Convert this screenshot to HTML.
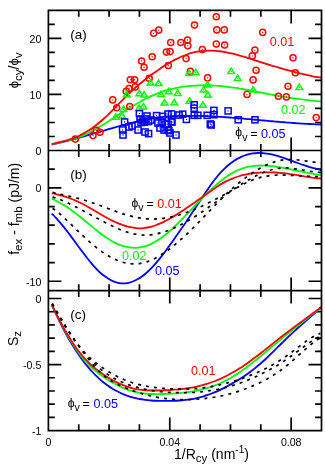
<!DOCTYPE html>
<html><head><meta charset="utf-8"><title>chart</title><style>html,body{margin:0;padding:0;background:#fff}svg{display:block;will-change:transform}</style></head><body>
<svg width="325" height="466" viewBox="0 0 325 466">
<rect width="325" height="466" fill="#fff"/>
<defs><clipPath id="ca"><rect x="48.4" y="10.4" width="273.1" height="140.1"/></clipPath>
<clipPath id="cb"><rect x="48.4" y="150.5" width="273.1" height="140.1"/></clipPath>
<clipPath id="cc"><rect x="48.4" y="290.6" width="273.1" height="140.0"/></clipPath></defs>
<path d="M78.74 10.40 L78.74 16.80 M78.74 144.10 L78.74 156.90 M78.74 284.20 L78.74 297.00 M78.74 424.20 L78.74 430.60 M109.09 10.40 L109.09 16.80 M109.09 144.10 L109.09 156.90 M109.09 284.20 L109.09 297.00 M109.09 424.20 L109.09 430.60 M139.43 10.40 L139.43 16.80 M139.43 144.10 L139.43 156.90 M139.43 284.20 L139.43 297.00 M139.43 424.20 L139.43 430.60 M169.78 10.40 L169.78 23.40 M169.78 137.50 L169.78 163.50 M169.78 277.60 L169.78 303.60 M169.78 417.60 L169.78 430.60 M200.12 10.40 L200.12 16.80 M200.12 144.10 L200.12 156.90 M200.12 284.20 L200.12 297.00 M200.12 424.20 L200.12 430.60 M230.47 10.40 L230.47 16.80 M230.47 144.10 L230.47 156.90 M230.47 284.20 L230.47 297.00 M230.47 424.20 L230.47 430.60 M260.81 10.40 L260.81 16.80 M260.81 144.10 L260.81 156.90 M260.81 284.20 L260.81 297.00 M260.81 424.20 L260.81 430.60 M291.16 10.40 L291.16 23.40 M291.16 137.50 L291.16 163.50 M291.16 277.60 L291.16 303.60 M291.16 417.60 L291.16 430.60 M48.40 136.49 L54.80 136.49 M315.10 136.49 L321.50 136.49 M48.40 122.48 L54.80 122.48 M315.10 122.48 L321.50 122.48 M48.40 108.47 L54.80 108.47 M315.10 108.47 L321.50 108.47 M48.40 94.46 L61.40 94.46 M308.50 94.46 L321.50 94.46 M48.40 80.45 L54.80 80.45 M315.10 80.45 L321.50 80.45 M48.40 66.44 L54.80 66.44 M315.10 66.44 L321.50 66.44 M48.40 52.43 L54.80 52.43 M315.10 52.43 L321.50 52.43 M48.40 38.42 L61.40 38.42 M308.50 38.42 L321.50 38.42 M48.40 24.41 L54.80 24.41 M315.10 24.41 L321.50 24.41 M48.40 281.26 L61.40 281.26 M308.50 281.26 L321.50 281.26 M48.40 262.58 L54.80 262.58 M315.10 262.58 L321.50 262.58 M48.40 243.90 L54.80 243.90 M315.10 243.90 L321.50 243.90 M48.40 225.22 L54.80 225.22 M315.10 225.22 L321.50 225.22 M48.40 206.54 L54.80 206.54 M315.10 206.54 L321.50 206.54 M48.40 187.86 L61.40 187.86 M308.50 187.86 L321.50 187.86 M48.40 169.18 L54.80 169.18 M315.10 169.18 L321.50 169.18 M48.40 298.52 L61.40 298.52 M308.50 298.52 L321.50 298.52 M48.40 311.73 L54.80 311.73 M315.10 311.73 L321.50 311.73 M48.40 324.94 L54.80 324.94 M315.10 324.94 L321.50 324.94 M48.40 338.15 L54.80 338.15 M315.10 338.15 L321.50 338.15 M48.40 351.35 L54.80 351.35 M315.10 351.35 L321.50 351.35 M48.40 364.56 L61.40 364.56 M308.50 364.56 L321.50 364.56 M48.40 377.77 L54.80 377.77 M315.10 377.77 L321.50 377.77 M48.40 390.98 L54.80 390.98 M315.10 390.98 L321.50 390.98 M48.40 404.18 L54.80 404.18 M315.10 404.18 L321.50 404.18 M48.40 417.39 L54.80 417.39 M315.10 417.39 L321.50 417.39" stroke="#000" stroke-width="1.7" fill="none" stroke-linecap="butt"/>
<path d="M51.70 144.45 C52.37 144.31 54.37 143.92 55.70 143.64 C57.03 143.35 58.37 143.05 59.70 142.74 C61.03 142.44 62.37 142.12 63.70 141.79 C65.03 141.46 66.37 141.12 67.70 140.78 C69.03 140.43 70.37 140.08 71.70 139.72 C73.03 139.36 74.37 139.00 75.70 138.63 C77.03 138.26 78.37 137.89 79.70 137.52 C81.03 137.14 82.37 136.76 83.70 136.38 C85.03 136.00 86.37 135.62 87.70 135.24 C89.03 134.85 90.37 134.47 91.70 134.08 C93.03 133.69 94.37 133.31 95.70 132.92 C97.03 132.53 98.37 132.14 99.70 131.76 C101.03 131.37 102.37 130.99 103.70 130.60 C105.03 130.22 106.37 129.83 107.70 129.45 C109.03 129.07 110.37 128.69 111.70 128.31 C113.03 127.93 114.37 127.55 115.70 127.18 C117.03 126.80 118.37 126.43 119.70 126.06 C121.03 125.69 122.37 125.32 123.70 124.95 C125.03 124.59 126.37 124.22 127.70 123.86 C129.03 123.50 130.37 123.14 131.70 122.80 C133.03 122.45 134.37 122.10 135.70 121.77 C137.03 121.44 138.37 121.11 139.70 120.80 C141.03 120.49 142.37 120.18 143.70 119.90 C145.03 119.61 146.37 119.34 147.70 119.08 C149.03 118.83 150.37 118.59 151.70 118.37 C153.03 118.15 154.37 117.95 155.70 117.76 C157.03 117.57 158.37 117.41 159.70 117.25 C161.03 117.10 162.37 116.96 163.70 116.83 C165.03 116.71 166.37 116.60 167.70 116.50 C169.03 116.40 170.37 116.31 171.70 116.24 C173.03 116.16 174.37 116.10 175.70 116.05 C177.03 115.99 178.37 115.95 179.70 115.91 C181.03 115.88 182.37 115.86 183.70 115.84 C185.03 115.82 186.37 115.81 187.70 115.80 C189.03 115.80 190.37 115.80 191.70 115.81 C193.03 115.82 194.37 115.84 195.70 115.86 C197.03 115.88 198.37 115.91 199.70 115.94 C201.03 115.97 202.37 116.01 203.70 116.06 C205.03 116.10 206.37 116.15 207.70 116.21 C209.03 116.26 210.37 116.32 211.70 116.39 C213.03 116.45 214.37 116.52 215.70 116.59 C217.03 116.67 218.37 116.75 219.70 116.83 C221.03 116.91 222.37 117.00 223.70 117.09 C225.03 117.18 226.37 117.27 227.70 117.37 C229.03 117.46 230.37 117.57 231.70 117.67 C233.03 117.77 234.37 117.88 235.70 117.99 C237.03 118.10 238.37 118.21 239.70 118.33 C241.03 118.44 242.37 118.56 243.70 118.67 C245.03 118.79 246.37 118.91 247.70 119.03 C249.03 119.15 250.37 119.28 251.70 119.40 C253.03 119.52 254.37 119.64 255.70 119.77 C257.03 119.89 258.37 120.01 259.70 120.14 C261.03 120.26 262.37 120.38 263.70 120.51 C265.03 120.63 266.37 120.75 267.70 120.87 C269.03 120.99 270.37 121.11 271.70 121.23 C273.03 121.34 274.37 121.46 275.70 121.58 C277.03 121.69 278.37 121.80 279.70 121.91 C281.03 122.03 282.37 122.13 283.70 122.24 C285.03 122.35 286.37 122.45 287.70 122.56 C289.03 122.66 290.37 122.76 291.70 122.86 C293.03 122.96 294.37 123.05 295.70 123.14 C297.03 123.24 298.37 123.33 299.70 123.41 C301.03 123.50 302.37 123.58 303.70 123.66 C305.03 123.74 306.37 123.82 307.70 123.89 C309.03 123.96 310.37 124.03 311.70 124.10 C313.03 124.16 314.37 124.23 315.70 124.28 C317.03 124.34 318.77 124.41 319.70 124.44 C320.63 124.48 321.03 124.49 321.30 124.50" fill="none" stroke="#0000ff" stroke-width="1.8" clip-path="url(#ca)"/>
<path d="M51.70 144.41 C52.37 144.23 54.37 143.68 55.70 143.34 C57.03 143.00 58.37 142.68 59.70 142.36 C61.03 142.04 62.37 141.74 63.70 141.42 C65.03 141.10 66.37 140.78 67.70 140.45 C69.03 140.11 70.37 139.76 71.70 139.38 C73.03 139.00 74.37 138.61 75.70 138.17 C77.03 137.72 78.37 137.25 79.70 136.73 C81.03 136.22 82.37 135.66 83.70 135.07 C85.03 134.48 86.37 133.86 87.70 133.20 C89.03 132.55 90.37 131.86 91.70 131.15 C93.03 130.45 94.37 129.71 95.70 128.95 C97.03 128.20 98.37 127.42 99.70 126.63 C101.03 125.84 102.37 125.02 103.70 124.20 C105.03 123.38 106.37 122.55 107.70 121.71 C109.03 120.87 110.37 120.02 111.70 119.17 C113.03 118.31 114.37 117.46 115.70 116.60 C117.03 115.74 118.37 114.89 119.70 114.03 C121.03 113.18 122.37 112.33 123.70 111.49 C125.03 110.65 126.37 109.81 127.70 108.99 C129.03 108.16 130.37 107.35 131.70 106.55 C133.03 105.75 134.37 104.97 135.70 104.21 C137.03 103.44 138.37 102.69 139.70 101.96 C141.03 101.23 142.37 100.52 143.70 99.83 C145.03 99.13 146.37 98.46 147.70 97.81 C149.03 97.17 150.37 96.54 151.70 95.94 C153.03 95.33 154.37 94.76 155.70 94.20 C157.03 93.65 158.37 93.12 159.70 92.63 C161.03 92.13 162.37 91.66 163.70 91.22 C165.03 90.78 166.37 90.37 167.70 89.98 C169.03 89.60 170.37 89.25 171.70 88.92 C173.03 88.59 174.37 88.29 175.70 88.02 C177.03 87.74 178.37 87.49 179.70 87.27 C181.03 87.04 182.37 86.84 183.70 86.65 C185.03 86.47 186.37 86.31 187.70 86.17 C189.03 86.03 190.37 85.91 191.70 85.81 C193.03 85.71 194.37 85.63 195.70 85.56 C197.03 85.50 198.37 85.45 199.70 85.41 C201.03 85.38 202.37 85.36 203.70 85.36 C205.03 85.35 206.37 85.36 207.70 85.39 C209.03 85.42 210.37 85.46 211.70 85.51 C213.03 85.57 214.37 85.64 215.70 85.72 C217.03 85.80 218.37 85.90 219.70 86.01 C221.03 86.12 222.37 86.24 223.70 86.37 C225.03 86.51 226.37 86.66 227.70 86.82 C229.03 86.97 230.37 87.15 231.70 87.33 C233.03 87.51 234.37 87.71 235.70 87.91 C237.03 88.12 238.37 88.33 239.70 88.56 C241.03 88.78 242.37 89.02 243.70 89.25 C245.03 89.49 246.37 89.74 247.70 89.99 C249.03 90.24 250.37 90.50 251.70 90.75 C253.03 91.01 254.37 91.27 255.70 91.54 C257.03 91.80 258.37 92.06 259.70 92.33 C261.03 92.59 262.37 92.85 263.70 93.11 C265.03 93.37 266.37 93.63 267.70 93.89 C269.03 94.14 270.37 94.40 271.70 94.65 C273.03 94.90 274.37 95.15 275.70 95.39 C277.03 95.63 278.37 95.87 279.70 96.11 C281.03 96.34 282.37 96.57 283.70 96.80 C285.03 97.02 286.37 97.24 287.70 97.45 C289.03 97.67 290.37 97.87 291.70 98.07 C293.03 98.27 294.37 98.47 295.70 98.65 C297.03 98.84 298.37 99.02 299.70 99.20 C301.03 99.37 302.37 99.54 303.70 99.70 C305.03 99.87 306.37 100.02 307.70 100.18 C309.03 100.33 310.37 100.48 311.70 100.62 C313.03 100.76 314.37 100.90 315.70 101.04 C317.03 101.17 318.77 101.34 319.70 101.43 C320.63 101.52 321.03 101.56 321.30 101.59" fill="none" stroke="#00ff00" stroke-width="1.8" clip-path="url(#ca)"/>
<path d="M51.70 144.27 C52.37 144.10 54.37 143.58 55.70 143.24 C57.03 142.89 58.37 142.57 59.70 142.22 C61.03 141.88 62.37 141.54 63.70 141.18 C65.03 140.81 66.37 140.44 67.70 140.03 C69.03 139.63 70.37 139.21 71.70 138.74 C73.03 138.27 74.37 137.78 75.70 137.23 C77.03 136.69 78.37 136.10 79.70 135.46 C81.03 134.81 82.37 134.12 83.70 133.39 C85.03 132.65 86.37 131.86 87.70 131.03 C89.03 130.20 90.37 129.32 91.70 128.39 C93.03 127.46 94.37 126.48 95.70 125.46 C97.03 124.44 98.37 123.37 99.70 122.26 C101.03 121.14 102.37 119.98 103.70 118.77 C105.03 117.57 106.37 116.31 107.70 115.03 C109.03 113.74 110.37 112.41 111.70 111.07 C113.03 109.73 114.37 108.36 115.70 107.00 C117.03 105.63 118.37 104.24 119.70 102.88 C121.03 101.51 122.37 100.14 123.70 98.80 C125.03 97.46 126.37 96.13 127.70 94.84 C129.03 93.55 130.37 92.29 131.70 91.06 C133.03 89.82 134.37 88.62 135.70 87.44 C137.03 86.26 138.37 85.11 139.70 83.98 C141.03 82.85 142.37 81.75 143.70 80.68 C145.03 79.60 146.37 78.55 147.70 77.52 C149.03 76.50 150.37 75.50 151.70 74.52 C153.03 73.54 154.37 72.58 155.70 71.65 C157.03 70.71 158.37 69.80 159.70 68.91 C161.03 68.02 162.37 67.15 163.70 66.31 C165.03 65.46 166.37 64.64 167.70 63.84 C169.03 63.05 170.37 62.28 171.70 61.54 C173.03 60.80 174.37 60.08 175.70 59.40 C177.03 58.72 178.37 58.08 179.70 57.46 C181.03 56.85 182.37 56.27 183.70 55.73 C185.03 55.20 186.37 54.69 187.70 54.23 C189.03 53.77 190.37 53.35 191.70 52.98 C193.03 52.60 194.37 52.27 195.70 51.99 C197.03 51.70 198.37 51.47 199.70 51.27 C201.03 51.08 202.37 50.93 203.70 50.82 C205.03 50.70 206.37 50.64 207.70 50.60 C209.03 50.57 210.37 50.58 211.70 50.61 C213.03 50.65 214.37 50.73 215.70 50.84 C217.03 50.94 218.37 51.08 219.70 51.25 C221.03 51.41 222.37 51.61 223.70 51.83 C225.03 52.05 226.37 52.30 227.70 52.57 C229.03 52.84 230.37 53.14 231.70 53.45 C233.03 53.76 234.37 54.10 235.70 54.45 C237.03 54.80 238.37 55.17 239.70 55.54 C241.03 55.92 242.37 56.32 243.70 56.72 C245.03 57.12 246.37 57.54 247.70 57.96 C249.03 58.38 250.37 58.80 251.70 59.23 C253.03 59.66 254.37 60.10 255.70 60.53 C257.03 60.96 258.37 61.40 259.70 61.83 C261.03 62.26 262.37 62.68 263.70 63.11 C265.03 63.53 266.37 63.94 267.70 64.35 C269.03 64.76 270.37 65.17 271.70 65.57 C273.03 65.96 274.37 66.36 275.70 66.75 C277.03 67.14 278.37 67.52 279.70 67.90 C281.03 68.28 282.37 68.66 283.70 69.03 C285.03 69.40 286.37 69.77 287.70 70.13 C289.03 70.49 290.37 70.85 291.70 71.21 C293.03 71.56 294.37 71.91 295.70 72.26 C297.03 72.61 298.37 72.95 299.70 73.29 C301.03 73.62 302.37 73.95 303.70 74.27 C305.03 74.58 306.37 74.89 307.70 75.19 C309.03 75.48 310.37 75.77 311.70 76.03 C313.03 76.30 314.37 76.55 315.70 76.78 C317.03 77.01 318.77 77.28 319.70 77.42 C320.63 77.56 321.03 77.60 321.30 77.64" fill="none" stroke="#ff0000" stroke-width="1.8" clip-path="url(#ca)"/>
<g clip-path="url(#ca)">
<circle cx="75.3" cy="139.1" r="3.05" fill="none" stroke="#ff0000" stroke-width="1.5"/><circle cx="75.3" cy="139.1" r="0.7" fill="#ff0000"/>
<circle cx="93.0" cy="135.6" r="3.05" fill="none" stroke="#ff0000" stroke-width="1.5"/><circle cx="93.0" cy="135.6" r="0.7" fill="#ff0000"/>
<circle cx="96.3" cy="130.2" r="3.05" fill="none" stroke="#ff0000" stroke-width="1.5"/><circle cx="96.3" cy="130.2" r="0.7" fill="#ff0000"/>
<circle cx="100.0" cy="132.3" r="3.05" fill="none" stroke="#ff0000" stroke-width="1.5"/><circle cx="100.0" cy="132.3" r="0.7" fill="#ff0000"/>
<circle cx="112.7" cy="99.9" r="3.05" fill="none" stroke="#ff0000" stroke-width="1.5"/><circle cx="112.7" cy="99.9" r="0.7" fill="#ff0000"/>
<circle cx="116.7" cy="107.8" r="3.05" fill="none" stroke="#ff0000" stroke-width="1.5"/><circle cx="116.7" cy="107.8" r="0.7" fill="#ff0000"/>
<circle cx="126.2" cy="91.2" r="3.05" fill="none" stroke="#ff0000" stroke-width="1.5"/><circle cx="126.2" cy="91.2" r="0.7" fill="#ff0000"/>
<circle cx="129.7" cy="106.5" r="3.05" fill="none" stroke="#ff0000" stroke-width="1.5"/><circle cx="129.7" cy="106.5" r="0.7" fill="#ff0000"/>
<circle cx="129.0" cy="88.6" r="3.05" fill="none" stroke="#ff0000" stroke-width="1.5"/><circle cx="129.0" cy="88.6" r="0.7" fill="#ff0000"/>
<circle cx="135.3" cy="86.9" r="3.05" fill="none" stroke="#ff0000" stroke-width="1.5"/><circle cx="135.3" cy="86.9" r="0.7" fill="#ff0000"/>
<circle cx="130.3" cy="79.8" r="3.05" fill="none" stroke="#ff0000" stroke-width="1.5"/><circle cx="130.3" cy="79.8" r="0.7" fill="#ff0000"/>
<circle cx="134.7" cy="79.7" r="3.05" fill="none" stroke="#ff0000" stroke-width="1.5"/><circle cx="134.7" cy="79.7" r="0.7" fill="#ff0000"/>
<circle cx="149.2" cy="78.3" r="3.05" fill="none" stroke="#ff0000" stroke-width="1.5"/><circle cx="149.2" cy="78.3" r="0.7" fill="#ff0000"/>
<circle cx="153.7" cy="33.2" r="3.05" fill="none" stroke="#ff0000" stroke-width="1.5"/><circle cx="153.7" cy="33.2" r="0.7" fill="#ff0000"/>
<circle cx="158.8" cy="30.1" r="3.05" fill="none" stroke="#ff0000" stroke-width="1.5"/><circle cx="158.8" cy="30.1" r="0.7" fill="#ff0000"/>
<circle cx="170.7" cy="42.5" r="3.05" fill="none" stroke="#ff0000" stroke-width="1.5"/><circle cx="170.7" cy="42.5" r="0.7" fill="#ff0000"/>
<circle cx="180.8" cy="42.5" r="3.05" fill="none" stroke="#ff0000" stroke-width="1.5"/><circle cx="180.8" cy="42.5" r="0.7" fill="#ff0000"/>
<circle cx="166.4" cy="52.1" r="3.05" fill="none" stroke="#ff0000" stroke-width="1.5"/><circle cx="166.4" cy="52.1" r="0.7" fill="#ff0000"/>
<circle cx="170.1" cy="51.6" r="3.05" fill="none" stroke="#ff0000" stroke-width="1.5"/><circle cx="170.1" cy="51.6" r="0.7" fill="#ff0000"/>
<circle cx="152.2" cy="56.7" r="3.05" fill="none" stroke="#ff0000" stroke-width="1.5"/><circle cx="152.2" cy="56.7" r="0.7" fill="#ff0000"/>
<circle cx="141.6" cy="61.0" r="3.05" fill="none" stroke="#ff0000" stroke-width="1.5"/><circle cx="141.6" cy="61.0" r="0.7" fill="#ff0000"/>
<circle cx="144.1" cy="67.3" r="3.05" fill="none" stroke="#ff0000" stroke-width="1.5"/><circle cx="144.1" cy="67.3" r="0.7" fill="#ff0000"/>
<circle cx="168.3" cy="65.5" r="3.05" fill="none" stroke="#ff0000" stroke-width="1.5"/><circle cx="168.3" cy="65.5" r="0.7" fill="#ff0000"/>
<circle cx="186.1" cy="58.6" r="3.05" fill="none" stroke="#ff0000" stroke-width="1.5"/><circle cx="186.1" cy="58.6" r="0.7" fill="#ff0000"/>
<circle cx="187.8" cy="45.8" r="3.05" fill="none" stroke="#ff0000" stroke-width="1.5"/><circle cx="187.8" cy="45.8" r="0.7" fill="#ff0000"/>
<circle cx="187.5" cy="40.0" r="3.05" fill="none" stroke="#ff0000" stroke-width="1.5"/><circle cx="187.5" cy="40.0" r="0.7" fill="#ff0000"/>
<circle cx="216.3" cy="16.8" r="3.05" fill="none" stroke="#ff0000" stroke-width="1.5"/><circle cx="216.3" cy="16.8" r="0.7" fill="#ff0000"/>
<circle cx="194.5" cy="25.1" r="3.05" fill="none" stroke="#ff0000" stroke-width="1.5"/><circle cx="194.5" cy="25.1" r="0.7" fill="#ff0000"/>
<circle cx="216.8" cy="29.9" r="3.05" fill="none" stroke="#ff0000" stroke-width="1.5"/><circle cx="216.8" cy="29.9" r="0.7" fill="#ff0000"/>
<circle cx="224.3" cy="29.9" r="3.05" fill="none" stroke="#ff0000" stroke-width="1.5"/><circle cx="224.3" cy="29.9" r="0.7" fill="#ff0000"/>
<circle cx="216.3" cy="44.0" r="3.05" fill="none" stroke="#ff0000" stroke-width="1.5"/><circle cx="216.3" cy="44.0" r="0.7" fill="#ff0000"/>
<circle cx="224.6" cy="45.0" r="3.05" fill="none" stroke="#ff0000" stroke-width="1.5"/><circle cx="224.6" cy="45.0" r="0.7" fill="#ff0000"/>
<circle cx="202.4" cy="49.6" r="3.05" fill="none" stroke="#ff0000" stroke-width="1.5"/><circle cx="202.4" cy="49.6" r="0.7" fill="#ff0000"/>
<circle cx="190.3" cy="71.4" r="3.05" fill="none" stroke="#ff0000" stroke-width="1.5"/><circle cx="190.3" cy="71.4" r="0.7" fill="#ff0000"/>
<circle cx="207.6" cy="77.9" r="3.05" fill="none" stroke="#ff0000" stroke-width="1.5"/><circle cx="207.6" cy="77.9" r="0.7" fill="#ff0000"/>
<circle cx="262.7" cy="32.4" r="3.05" fill="none" stroke="#ff0000" stroke-width="1.5"/><circle cx="262.7" cy="32.4" r="0.7" fill="#ff0000"/>
<circle cx="254.9" cy="50.1" r="3.05" fill="none" stroke="#ff0000" stroke-width="1.5"/><circle cx="254.9" cy="50.1" r="0.7" fill="#ff0000"/>
<circle cx="252.3" cy="55.9" r="3.05" fill="none" stroke="#ff0000" stroke-width="1.5"/><circle cx="252.3" cy="55.9" r="0.7" fill="#ff0000"/>
<circle cx="256.1" cy="70.3" r="3.05" fill="none" stroke="#ff0000" stroke-width="1.5"/><circle cx="256.1" cy="70.3" r="0.7" fill="#ff0000"/>
<circle cx="253.1" cy="79.9" r="3.05" fill="none" stroke="#ff0000" stroke-width="1.5"/><circle cx="253.1" cy="79.9" r="0.7" fill="#ff0000"/>
<circle cx="293.0" cy="57.7" r="3.05" fill="none" stroke="#ff0000" stroke-width="1.5"/><circle cx="293.0" cy="57.7" r="0.7" fill="#ff0000"/>
<circle cx="295.3" cy="72.8" r="3.05" fill="none" stroke="#ff0000" stroke-width="1.5"/><circle cx="295.3" cy="72.8" r="0.7" fill="#ff0000"/>
<circle cx="288.0" cy="86.2" r="3.05" fill="none" stroke="#ff0000" stroke-width="1.5"/><circle cx="288.0" cy="86.2" r="0.7" fill="#ff0000"/>
<circle cx="247.0" cy="94.4" r="3.05" fill="none" stroke="#ff0000" stroke-width="1.5"/><circle cx="247.0" cy="94.4" r="0.7" fill="#ff0000"/>
<circle cx="278.4" cy="96.2" r="3.05" fill="none" stroke="#ff0000" stroke-width="1.5"/><circle cx="278.4" cy="96.2" r="0.7" fill="#ff0000"/>
<circle cx="286.4" cy="96.9" r="3.05" fill="none" stroke="#ff0000" stroke-width="1.5"/><circle cx="286.4" cy="96.9" r="0.7" fill="#ff0000"/>
<circle cx="316.2" cy="117.6" r="3.05" fill="none" stroke="#ff0000" stroke-width="1.5"/><circle cx="316.2" cy="117.6" r="0.7" fill="#ff0000"/>
<path d="M115.80 113.80 L119.10 119.20 L112.50 119.20 Z" fill="none" stroke="#00ff00" stroke-width="1.5" stroke-linejoin="miter"/><circle cx="115.8" cy="117.2" r="0.7" fill="#00ff00"/>
<path d="M122.10 112.60 L125.40 118.00 L118.80 118.00 Z" fill="none" stroke="#00ff00" stroke-width="1.5" stroke-linejoin="miter"/><circle cx="122.1" cy="116.0" r="0.7" fill="#00ff00"/>
<path d="M123.50 106.00 L126.80 111.40 L120.20 111.40 Z" fill="none" stroke="#00ff00" stroke-width="1.5" stroke-linejoin="miter"/><circle cx="123.5" cy="109.4" r="0.7" fill="#00ff00"/>
<path d="M126.80 91.30 L130.10 96.70 L123.50 96.70 Z" fill="none" stroke="#00ff00" stroke-width="1.5" stroke-linejoin="miter"/><circle cx="126.8" cy="94.7" r="0.7" fill="#00ff00"/>
<path d="M139.40 90.30 L142.70 95.70 L136.10 95.70 Z" fill="none" stroke="#00ff00" stroke-width="1.5" stroke-linejoin="miter"/><circle cx="139.4" cy="93.7" r="0.7" fill="#00ff00"/>
<path d="M144.10 91.60 L147.40 97.00 L140.80 97.00 Z" fill="none" stroke="#00ff00" stroke-width="1.5" stroke-linejoin="miter"/><circle cx="144.1" cy="95.0" r="0.7" fill="#00ff00"/>
<path d="M139.10 105.00 L142.40 110.40 L135.80 110.40 Z" fill="none" stroke="#00ff00" stroke-width="1.5" stroke-linejoin="miter"/><circle cx="139.1" cy="108.4" r="0.7" fill="#00ff00"/>
<path d="M143.40 103.70 L146.70 109.10 L140.10 109.10 Z" fill="none" stroke="#00ff00" stroke-width="1.5" stroke-linejoin="miter"/><circle cx="143.4" cy="107.1" r="0.7" fill="#00ff00"/>
<path d="M150.50 79.70 L153.80 85.10 L147.20 85.10 Z" fill="none" stroke="#00ff00" stroke-width="1.5" stroke-linejoin="miter"/><circle cx="150.5" cy="83.1" r="0.7" fill="#00ff00"/>
<path d="M158.50 80.20 L161.80 85.60 L155.20 85.60 Z" fill="none" stroke="#00ff00" stroke-width="1.5" stroke-linejoin="miter"/><circle cx="158.5" cy="83.6" r="0.7" fill="#00ff00"/>
<path d="M161.00 91.10 L164.30 96.50 L157.70 96.50 Z" fill="none" stroke="#00ff00" stroke-width="1.5" stroke-linejoin="miter"/><circle cx="161.0" cy="94.5" r="0.7" fill="#00ff00"/>
<path d="M168.70 88.30 L172.00 93.70 L165.40 93.70 Z" fill="none" stroke="#00ff00" stroke-width="1.5" stroke-linejoin="miter"/><circle cx="168.7" cy="91.7" r="0.7" fill="#00ff00"/>
<path d="M177.70 90.00 L181.00 95.40 L174.40 95.40 Z" fill="none" stroke="#00ff00" stroke-width="1.5" stroke-linejoin="miter"/><circle cx="177.7" cy="93.4" r="0.7" fill="#00ff00"/>
<path d="M164.50 99.60 L167.80 105.00 L161.20 105.00 Z" fill="none" stroke="#00ff00" stroke-width="1.5" stroke-linejoin="miter"/><circle cx="164.5" cy="103.0" r="0.7" fill="#00ff00"/>
<path d="M174.20 99.40 L177.50 104.80 L170.90 104.80 Z" fill="none" stroke="#00ff00" stroke-width="1.5" stroke-linejoin="miter"/><circle cx="174.2" cy="102.8" r="0.7" fill="#00ff00"/>
<path d="M189.60 97.90 L192.90 103.30 L186.30 103.30 Z" fill="none" stroke="#00ff00" stroke-width="1.5" stroke-linejoin="miter"/><circle cx="189.6" cy="101.3" r="0.7" fill="#00ff00"/>
<path d="M202.90 101.90 L206.20 107.30 L199.60 107.30 Z" fill="none" stroke="#00ff00" stroke-width="1.5" stroke-linejoin="miter"/><circle cx="202.9" cy="105.3" r="0.7" fill="#00ff00"/>
<path d="M203.60 86.60 L206.90 92.00 L200.30 92.00 Z" fill="none" stroke="#00ff00" stroke-width="1.5" stroke-linejoin="miter"/><circle cx="203.6" cy="90.0" r="0.7" fill="#00ff00"/>
<path d="M207.40 81.50 L210.70 86.90 L204.10 86.90 Z" fill="none" stroke="#00ff00" stroke-width="1.5" stroke-linejoin="miter"/><circle cx="207.4" cy="84.9" r="0.7" fill="#00ff00"/>
<path d="M207.90 91.60 L211.20 97.00 L204.60 97.00 Z" fill="none" stroke="#00ff00" stroke-width="1.5" stroke-linejoin="miter"/><circle cx="207.9" cy="95.0" r="0.7" fill="#00ff00"/>
<path d="M195.80 69.30 L199.10 74.70 L192.50 74.70 Z" fill="none" stroke="#00ff00" stroke-width="1.5" stroke-linejoin="miter"/><circle cx="195.8" cy="72.7" r="0.7" fill="#00ff00"/>
<path d="M189.00 70.10 L192.30 75.50 L185.70 75.50 Z" fill="none" stroke="#00ff00" stroke-width="1.5" stroke-linejoin="miter"/><circle cx="189.0" cy="73.5" r="0.7" fill="#00ff00"/>
<path d="M231.20 68.10 L234.50 73.50 L227.90 73.50 Z" fill="none" stroke="#00ff00" stroke-width="1.5" stroke-linejoin="miter"/><circle cx="231.2" cy="71.5" r="0.7" fill="#00ff00"/>
<path d="M237.70 75.20 L241.00 80.60 L234.40 80.60 Z" fill="none" stroke="#00ff00" stroke-width="1.5" stroke-linejoin="miter"/><circle cx="237.7" cy="78.6" r="0.7" fill="#00ff00"/>
<path d="M253.10 86.60 L256.40 92.00 L249.80 92.00 Z" fill="none" stroke="#00ff00" stroke-width="1.5" stroke-linejoin="miter"/><circle cx="253.1" cy="90.0" r="0.7" fill="#00ff00"/>
<path d="M299.30 84.00 L302.60 89.40 L296.00 89.40 Z" fill="none" stroke="#00ff00" stroke-width="1.5" stroke-linejoin="miter"/><circle cx="299.3" cy="87.4" r="0.7" fill="#00ff00"/>
<rect x="136.35" y="110.55" width="6.1" height="6.1" fill="none" stroke="#0000ff" stroke-width="1.5"/><circle cx="139.4" cy="113.6" r="0.7" fill="#0000ff"/>
<rect x="121.55" y="118.95" width="6.1" height="6.1" fill="none" stroke="#0000ff" stroke-width="1.5"/><circle cx="124.6" cy="122.0" r="0.7" fill="#0000ff"/>
<rect x="119.55" y="126.95" width="6.1" height="6.1" fill="none" stroke="#0000ff" stroke-width="1.5"/><circle cx="122.6" cy="130.0" r="0.7" fill="#0000ff"/>
<rect x="119.95" y="131.95" width="6.1" height="6.1" fill="none" stroke="#0000ff" stroke-width="1.5"/><circle cx="123.0" cy="135.0" r="0.7" fill="#0000ff"/>
<rect x="125.95" y="123.95" width="6.1" height="6.1" fill="none" stroke="#0000ff" stroke-width="1.5"/><circle cx="129.0" cy="127.0" r="0.7" fill="#0000ff"/>
<rect x="128.95" y="122.95" width="6.1" height="6.1" fill="none" stroke="#0000ff" stroke-width="1.5"/><circle cx="132.0" cy="126.0" r="0.7" fill="#0000ff"/>
<rect x="134.95" y="126.95" width="6.1" height="6.1" fill="none" stroke="#0000ff" stroke-width="1.5"/><circle cx="138.0" cy="130.0" r="0.7" fill="#0000ff"/>
<rect x="136.95" y="115.95" width="6.1" height="6.1" fill="none" stroke="#0000ff" stroke-width="1.5"/><circle cx="140.0" cy="119.0" r="0.7" fill="#0000ff"/>
<rect x="139.95" y="117.95" width="6.1" height="6.1" fill="none" stroke="#0000ff" stroke-width="1.5"/><circle cx="143.0" cy="121.0" r="0.7" fill="#0000ff"/>
<rect x="142.95" y="115.95" width="6.1" height="6.1" fill="none" stroke="#0000ff" stroke-width="1.5"/><circle cx="146.0" cy="119.0" r="0.7" fill="#0000ff"/>
<rect x="143.95" y="112.95" width="6.1" height="6.1" fill="none" stroke="#0000ff" stroke-width="1.5"/><circle cx="147.0" cy="116.0" r="0.7" fill="#0000ff"/>
<rect x="141.95" y="128.95" width="6.1" height="6.1" fill="none" stroke="#0000ff" stroke-width="1.5"/><circle cx="145.0" cy="132.0" r="0.7" fill="#0000ff"/>
<rect x="145.55" y="130.55" width="6.1" height="6.1" fill="none" stroke="#0000ff" stroke-width="1.5"/><circle cx="148.6" cy="133.6" r="0.7" fill="#0000ff"/>
<rect x="147.95" y="116.95" width="6.1" height="6.1" fill="none" stroke="#0000ff" stroke-width="1.5"/><circle cx="151.0" cy="120.0" r="0.7" fill="#0000ff"/>
<rect x="153.55" y="112.55" width="6.1" height="6.1" fill="none" stroke="#0000ff" stroke-width="1.5"/><circle cx="156.6" cy="115.6" r="0.7" fill="#0000ff"/>
<rect x="154.95" y="119.95" width="6.1" height="6.1" fill="none" stroke="#0000ff" stroke-width="1.5"/><circle cx="158.0" cy="123.0" r="0.7" fill="#0000ff"/>
<rect x="159.55" y="113.35" width="6.1" height="6.1" fill="none" stroke="#0000ff" stroke-width="1.5"/><circle cx="162.6" cy="116.4" r="0.7" fill="#0000ff"/>
<rect x="156.95" y="124.95" width="6.1" height="6.1" fill="none" stroke="#0000ff" stroke-width="1.5"/><circle cx="160.0" cy="128.0" r="0.7" fill="#0000ff"/>
<rect x="158.95" y="118.95" width="6.1" height="6.1" fill="none" stroke="#0000ff" stroke-width="1.5"/><circle cx="162.0" cy="122.0" r="0.7" fill="#0000ff"/>
<rect x="160.95" y="126.95" width="6.1" height="6.1" fill="none" stroke="#0000ff" stroke-width="1.5"/><circle cx="164.0" cy="130.0" r="0.7" fill="#0000ff"/>
<rect x="162.95" y="120.95" width="6.1" height="6.1" fill="none" stroke="#0000ff" stroke-width="1.5"/><circle cx="166.0" cy="124.0" r="0.7" fill="#0000ff"/>
<rect x="164.95" y="110.95" width="6.1" height="6.1" fill="none" stroke="#0000ff" stroke-width="1.5"/><circle cx="168.0" cy="114.0" r="0.7" fill="#0000ff"/>
<rect x="168.55" y="110.95" width="6.1" height="6.1" fill="none" stroke="#0000ff" stroke-width="1.5"/><circle cx="171.6" cy="114.0" r="0.7" fill="#0000ff"/>
<rect x="164.95" y="126.95" width="6.1" height="6.1" fill="none" stroke="#0000ff" stroke-width="1.5"/><circle cx="168.0" cy="130.0" r="0.7" fill="#0000ff"/>
<rect x="168.95" y="118.95" width="6.1" height="6.1" fill="none" stroke="#0000ff" stroke-width="1.5"/><circle cx="172.0" cy="122.0" r="0.7" fill="#0000ff"/>
<rect x="166.95" y="129.95" width="6.1" height="6.1" fill="none" stroke="#0000ff" stroke-width="1.5"/><circle cx="170.0" cy="133.0" r="0.7" fill="#0000ff"/>
<rect x="172.95" y="131.95" width="6.1" height="6.1" fill="none" stroke="#0000ff" stroke-width="1.5"/><circle cx="176.0" cy="135.0" r="0.7" fill="#0000ff"/>
<rect x="175.95" y="111.95" width="6.1" height="6.1" fill="none" stroke="#0000ff" stroke-width="1.5"/><circle cx="179.0" cy="115.0" r="0.7" fill="#0000ff"/>
<rect x="191.15" y="101.75" width="6.1" height="6.1" fill="none" stroke="#0000ff" stroke-width="1.5"/><circle cx="194.2" cy="104.8" r="0.7" fill="#0000ff"/>
<rect x="191.15" y="105.15" width="6.1" height="6.1" fill="none" stroke="#0000ff" stroke-width="1.5"/><circle cx="194.2" cy="108.2" r="0.7" fill="#0000ff"/>
<rect x="191.15" y="112.25" width="6.1" height="6.1" fill="none" stroke="#0000ff" stroke-width="1.5"/><circle cx="194.2" cy="115.3" r="0.7" fill="#0000ff"/>
<rect x="194.85" y="112.25" width="6.1" height="6.1" fill="none" stroke="#0000ff" stroke-width="1.5"/><circle cx="197.9" cy="115.3" r="0.7" fill="#0000ff"/>
<rect x="179.65" y="111.15" width="6.1" height="6.1" fill="none" stroke="#0000ff" stroke-width="1.5"/><circle cx="182.7" cy="114.2" r="0.7" fill="#0000ff"/>
<rect x="183.35" y="116.35" width="6.1" height="6.1" fill="none" stroke="#0000ff" stroke-width="1.5"/><circle cx="186.4" cy="119.4" r="0.7" fill="#0000ff"/>
<rect x="168.25" y="118.75" width="6.1" height="6.1" fill="none" stroke="#0000ff" stroke-width="1.5"/><circle cx="171.3" cy="121.8" r="0.7" fill="#0000ff"/>
<rect x="164.95" y="121.25" width="6.1" height="6.1" fill="none" stroke="#0000ff" stroke-width="1.5"/><circle cx="168.0" cy="124.3" r="0.7" fill="#0000ff"/>
<rect x="165.75" y="127.55" width="6.1" height="6.1" fill="none" stroke="#0000ff" stroke-width="1.5"/><circle cx="168.8" cy="130.6" r="0.7" fill="#0000ff"/>
<rect x="204.15" y="112.25" width="6.1" height="6.1" fill="none" stroke="#0000ff" stroke-width="1.5"/><circle cx="207.2" cy="115.3" r="0.7" fill="#0000ff"/>
<rect x="210.85" y="111.65" width="6.1" height="6.1" fill="none" stroke="#0000ff" stroke-width="1.5"/><circle cx="213.9" cy="114.7" r="0.7" fill="#0000ff"/>
<rect x="210.85" y="107.35" width="6.1" height="6.1" fill="none" stroke="#0000ff" stroke-width="1.5"/><circle cx="213.9" cy="110.4" r="0.7" fill="#0000ff"/>
<rect x="207.25" y="120.95" width="6.1" height="6.1" fill="none" stroke="#0000ff" stroke-width="1.5"/><circle cx="210.3" cy="124.0" r="0.7" fill="#0000ff"/>
<rect x="208.15" y="121.95" width="6.1" height="6.1" fill="none" stroke="#0000ff" stroke-width="1.5"/><circle cx="211.2" cy="125.0" r="0.7" fill="#0000ff"/>
<rect x="225.05" y="107.85" width="6.1" height="6.1" fill="none" stroke="#0000ff" stroke-width="1.5"/><circle cx="228.1" cy="110.9" r="0.7" fill="#0000ff"/>
<rect x="235.15" y="116.75" width="6.1" height="6.1" fill="none" stroke="#0000ff" stroke-width="1.5"/><circle cx="238.2" cy="119.8" r="0.7" fill="#0000ff"/>
<rect x="251.95" y="116.75" width="6.1" height="6.1" fill="none" stroke="#0000ff" stroke-width="1.5"/><circle cx="255.0" cy="119.8" r="0.7" fill="#0000ff"/>
<rect x="137.95" y="119.45" width="6.1" height="6.1" fill="none" stroke="#0000ff" stroke-width="1.5"/><circle cx="141.0" cy="122.5" r="0.7" fill="#0000ff"/>
<rect x="141.45" y="119.15" width="6.1" height="6.1" fill="none" stroke="#0000ff" stroke-width="1.5"/><circle cx="144.5" cy="122.2" r="0.7" fill="#0000ff"/>
<rect x="145.45" y="118.45" width="6.1" height="6.1" fill="none" stroke="#0000ff" stroke-width="1.5"/><circle cx="148.5" cy="121.5" r="0.7" fill="#0000ff"/>
</g>
<path d="M51.70 213.61 C52.37 214.28 54.37 216.19 55.70 217.60 C57.03 219.01 58.37 220.52 59.70 222.07 C61.03 223.62 62.37 225.25 63.70 226.91 C65.03 228.57 66.37 230.30 67.70 232.04 C69.03 233.78 70.37 235.57 71.70 237.36 C73.03 239.15 74.37 240.97 75.70 242.78 C77.03 244.58 78.37 246.41 79.70 248.20 C81.03 249.99 82.37 251.78 83.70 253.53 C85.03 255.28 86.37 257.01 87.70 258.69 C89.03 260.37 90.37 262.01 91.70 263.59 C93.03 265.16 94.37 266.69 95.70 268.13 C97.03 269.58 98.30 270.96 99.70 272.24 C101.10 273.52 102.62 274.73 104.08 275.82 C105.54 276.92 107.00 277.92 108.45 278.79 C109.90 279.67 111.34 280.44 112.77 281.06 C114.19 281.69 115.61 282.19 117.02 282.56 C118.42 282.93 119.81 283.17 121.19 283.29 C122.57 283.42 123.94 283.41 125.31 283.30 C126.68 283.19 128.05 282.95 129.41 282.62 C130.77 282.28 132.13 281.83 133.48 281.28 C134.83 280.73 136.17 280.08 137.50 279.33 C138.83 278.58 140.15 277.73 141.48 276.80 C142.80 275.87 144.11 274.84 145.42 273.73 C146.74 272.62 148.04 271.43 149.35 270.16 C150.66 268.89 151.96 267.55 153.27 266.13 C154.57 264.72 155.88 263.24 157.18 261.69 C158.49 260.15 159.79 258.54 161.10 256.89 C162.41 255.23 163.73 253.51 165.04 251.75 C166.36 249.99 167.68 248.18 169.01 246.33 C170.33 244.49 171.66 242.60 173.01 240.68 C174.37 238.76 175.75 236.80 177.14 234.83 C178.52 232.86 179.93 230.85 181.33 228.83 C182.73 226.82 184.15 224.78 185.54 222.74 C186.93 220.70 188.31 218.64 189.67 216.60 C191.03 214.55 192.36 212.50 193.70 210.46 C195.03 208.43 196.35 206.39 197.66 204.39 C198.98 202.38 200.30 200.38 201.61 198.42 C202.92 196.46 204.23 194.51 205.53 192.61 C206.82 190.72 208.11 188.84 209.38 187.03 C210.64 185.21 211.84 183.43 213.11 181.72 C214.38 180.00 215.68 178.34 217.00 176.74 C218.32 175.15 219.68 173.62 221.02 172.17 C222.36 170.72 223.71 169.34 225.06 168.05 C226.40 166.76 227.75 165.56 229.10 164.45 C230.45 163.34 231.80 162.33 233.15 161.39 C234.50 160.46 235.84 159.62 237.18 158.86 C238.53 158.10 239.86 157.42 241.20 156.82 C242.54 156.22 243.87 155.70 245.20 155.24 C246.53 154.79 247.87 154.42 249.20 154.10 C250.53 153.79 251.87 153.55 253.20 153.37 C254.53 153.19 255.88 153.08 257.20 153.02 C258.52 152.96 259.82 152.96 261.12 153.01 C262.41 153.06 263.68 153.17 264.96 153.32 C266.24 153.47 267.51 153.67 268.79 153.90 C270.07 154.13 271.36 154.41 272.64 154.72 C273.93 155.02 275.22 155.36 276.51 155.73 C277.80 156.09 279.09 156.48 280.38 156.89 C281.67 157.30 282.95 157.73 284.24 158.17 C285.53 158.61 286.82 159.07 288.11 159.53 C289.40 159.99 290.69 160.46 291.98 160.93 C293.27 161.39 294.55 161.87 295.84 162.34 C297.13 162.80 298.40 163.27 299.71 163.73 C301.02 164.19 302.37 164.65 303.70 165.09 C305.03 165.54 306.37 165.97 307.70 166.39 C309.03 166.81 310.37 167.22 311.70 167.61 C313.03 168.00 314.37 168.37 315.70 168.72 C317.03 169.07 318.77 169.48 319.70 169.71 C320.63 169.93 321.03 170.00 321.30 170.06" fill="none" stroke="#0000ff" stroke-width="1.8" clip-path="url(#cb)"/>
<path d="M51.70 198.73 C52.37 199.04 54.37 199.91 55.70 200.57 C57.03 201.23 58.37 201.93 59.70 202.68 C61.03 203.42 62.37 204.21 63.70 205.03 C65.03 205.86 66.37 206.72 67.70 207.62 C69.03 208.51 70.37 209.44 71.70 210.40 C73.03 211.36 74.37 212.35 75.70 213.36 C77.03 214.37 78.37 215.41 79.70 216.47 C81.03 217.53 82.37 218.61 83.70 219.70 C85.03 220.79 86.37 221.91 87.70 223.01 C89.03 224.11 90.37 225.23 91.70 226.33 C93.03 227.43 94.37 228.53 95.70 229.60 C97.03 230.67 98.37 231.73 99.70 232.76 C101.03 233.78 102.37 234.79 103.70 235.75 C105.03 236.71 106.37 237.63 107.70 238.51 C109.03 239.38 110.37 240.21 111.70 240.97 C113.03 241.74 114.37 242.45 115.70 243.10 C117.03 243.74 118.37 244.33 119.70 244.84 C121.03 245.36 122.37 245.81 123.70 246.20 C125.03 246.58 126.37 246.90 127.70 247.15 C129.03 247.40 130.37 247.58 131.70 247.69 C133.03 247.79 134.37 247.83 135.70 247.79 C137.03 247.75 138.37 247.63 139.70 247.44 C141.03 247.25 142.37 246.98 143.70 246.63 C145.03 246.28 146.36 245.85 147.70 245.35 C149.04 244.84 150.40 244.24 151.77 243.57 C153.14 242.91 154.54 242.16 155.92 241.34 C157.30 240.53 158.68 239.65 160.06 238.70 C161.44 237.76 162.81 236.76 164.18 235.70 C165.55 234.65 166.91 233.53 168.27 232.38 C169.62 231.23 170.97 230.03 172.32 228.79 C173.67 227.56 175.01 226.28 176.35 224.98 C177.70 223.68 179.04 222.34 180.38 220.99 C181.72 219.64 183.06 218.25 184.40 216.87 C185.74 215.48 187.08 214.06 188.42 212.65 C189.76 211.24 191.10 209.81 192.44 208.39 C193.78 206.97 195.12 205.54 196.46 204.13 C197.81 202.71 199.15 201.30 200.50 199.90 C201.85 198.51 203.20 197.12 204.56 195.76 C205.92 194.40 207.28 193.05 208.65 191.74 C210.02 190.43 211.39 189.14 212.76 187.89 C214.13 186.64 215.50 185.42 216.87 184.25 C218.23 183.07 219.60 181.94 220.95 180.85 C222.31 179.77 223.66 178.73 225.00 177.76 C226.34 176.78 227.67 175.86 229.00 175.00 C230.33 174.14 231.66 173.35 233.00 172.62 C234.33 171.89 235.66 171.23 236.99 170.62 C238.32 170.02 239.65 169.48 240.98 168.99 C242.31 168.50 243.64 168.08 244.97 167.70 C246.30 167.32 247.63 167.00 248.95 166.73 C250.28 166.45 251.61 166.23 252.94 166.05 C254.27 165.87 255.59 165.74 256.92 165.64 C258.25 165.55 259.58 165.50 260.90 165.48 C262.23 165.47 263.55 165.49 264.87 165.55 C266.19 165.60 267.50 165.69 268.81 165.80 C270.12 165.91 271.43 166.06 272.73 166.22 C274.03 166.38 275.33 166.57 276.63 166.77 C277.92 166.97 279.22 167.19 280.51 167.42 C281.80 167.65 283.08 167.90 284.37 168.14 C285.66 168.39 286.94 168.65 288.22 168.90 C289.50 169.16 290.78 169.42 292.06 169.68 C293.34 169.94 294.61 170.20 295.89 170.46 C297.16 170.72 298.41 170.98 299.71 171.24 C301.02 171.50 302.37 171.76 303.70 172.02 C305.03 172.27 306.37 172.53 307.70 172.79 C309.03 173.04 310.37 173.29 311.70 173.54 C313.03 173.79 314.37 174.04 315.70 174.29 C317.03 174.53 318.77 174.84 319.70 175.01 C320.63 175.18 321.03 175.25 321.30 175.29" fill="none" stroke="#00ff00" stroke-width="1.8" clip-path="url(#cb)"/>
<path d="M51.70 193.29 C52.37 193.42 54.37 193.78 55.70 194.07 C57.03 194.36 58.37 194.68 59.70 195.03 C61.03 195.38 62.37 195.76 63.70 196.17 C65.03 196.58 66.37 197.02 67.70 197.49 C69.03 197.96 70.37 198.46 71.70 198.99 C73.03 199.52 74.37 200.08 75.70 200.66 C77.03 201.25 78.37 201.86 79.70 202.50 C81.03 203.15 82.37 203.82 83.70 204.51 C85.03 205.21 86.37 205.94 87.70 206.68 C89.03 207.43 90.37 208.20 91.70 208.97 C93.03 209.74 94.37 210.53 95.70 211.32 C97.03 212.10 98.37 212.90 99.70 213.68 C101.03 214.46 102.37 215.25 103.70 216.01 C105.03 216.77 106.37 217.52 107.70 218.24 C109.03 218.96 110.37 219.67 111.70 220.34 C113.03 221.00 114.37 221.64 115.70 222.24 C117.03 222.84 118.37 223.41 119.70 223.94 C121.03 224.46 122.37 224.95 123.70 225.39 C125.03 225.83 126.37 226.23 127.70 226.58 C129.03 226.93 130.37 227.23 131.70 227.48 C133.03 227.72 134.37 227.92 135.70 228.06 C137.03 228.19 138.37 228.29 139.70 228.29 C141.03 228.30 142.37 228.23 143.70 228.10 C145.03 227.96 146.37 227.76 147.70 227.50 C149.03 227.24 150.37 226.91 151.70 226.54 C153.03 226.16 154.37 225.73 155.70 225.25 C157.03 224.77 158.37 224.24 159.70 223.67 C161.03 223.11 162.37 222.50 163.70 221.85 C165.03 221.21 166.37 220.52 167.70 219.81 C169.03 219.09 170.37 218.32 171.70 217.54 C173.03 216.76 174.37 215.95 175.70 215.13 C177.03 214.30 178.37 213.45 179.70 212.59 C181.03 211.72 182.37 210.84 183.70 209.95 C185.03 209.06 186.37 208.15 187.70 207.24 C189.03 206.34 190.37 205.41 191.70 204.50 C193.03 203.59 194.37 202.71 195.70 201.79 C197.03 200.88 198.37 199.98 199.70 199.04 C201.03 198.09 202.37 197.10 203.70 196.14 C205.03 195.18 206.37 194.22 207.70 193.27 C209.03 192.32 210.37 191.38 211.70 190.44 C213.03 189.50 214.37 188.53 215.70 187.62 C217.03 186.71 218.37 185.83 219.70 185.00 C221.03 184.17 222.37 183.39 223.70 182.66 C225.03 181.93 226.37 181.26 227.70 180.62 C229.03 179.97 230.37 179.36 231.70 178.80 C233.03 178.24 234.37 177.73 235.70 177.27 C237.03 176.80 238.37 176.38 239.70 176.00 C241.03 175.61 242.37 175.28 243.70 174.97 C245.03 174.66 246.37 174.39 247.70 174.14 C249.03 173.89 250.37 173.68 251.70 173.49 C253.03 173.30 254.37 173.13 255.70 172.98 C257.03 172.84 258.37 172.72 259.70 172.62 C261.03 172.52 262.37 172.44 263.70 172.39 C265.03 172.33 266.37 172.30 267.70 172.29 C269.03 172.28 270.37 172.29 271.70 172.32 C273.03 172.36 274.37 172.41 275.70 172.49 C277.03 172.57 278.37 172.67 279.70 172.79 C281.03 172.91 282.37 173.05 283.70 173.21 C285.03 173.36 286.37 173.54 287.70 173.72 C289.03 173.91 290.37 174.11 291.70 174.31 C293.03 174.51 294.37 174.72 295.70 174.93 C297.03 175.15 298.37 175.35 299.70 175.58 C301.03 175.80 302.37 176.05 303.70 176.28 C305.03 176.51 306.37 176.74 307.70 176.95 C309.03 177.16 310.37 177.37 311.70 177.55 C313.03 177.74 314.37 177.92 315.70 178.07 C317.03 178.22 318.77 178.38 319.70 178.47 C320.63 178.56 321.03 178.57 321.30 178.59" fill="none" stroke="#ff0000" stroke-width="1.8" clip-path="url(#cb)"/>
<path d="M52.60 192.33 C53.27 192.51 55.27 193.04 56.60 193.38 C57.93 193.72 59.27 194.03 60.60 194.34 C61.93 194.66 63.27 194.96 64.60 195.26 C65.93 195.56 67.27 195.86 68.60 196.16 C69.93 196.46 71.27 196.76 72.60 197.07 C73.93 197.39 75.27 197.70 76.60 198.04 C77.93 198.38 79.27 198.72 80.60 199.09 C81.93 199.46 83.27 199.85 84.60 200.25 C85.93 200.66 87.27 201.08 88.60 201.52 C89.93 201.95 91.27 202.41 92.60 202.87 C93.93 203.33 95.27 203.80 96.60 204.28 C97.93 204.76 99.27 205.25 100.60 205.74 C101.93 206.23 103.27 206.73 104.60 207.22 C105.93 207.72 107.27 208.22 108.60 208.72 C109.93 209.21 111.27 209.71 112.60 210.20 C113.93 210.69 115.27 211.17 116.60 211.65 C117.93 212.12 119.27 212.58 120.60 213.03 C121.93 213.48 123.27 213.92 124.60 214.33 C125.93 214.75 127.27 215.15 128.60 215.52 C129.93 215.89 131.27 216.25 132.60 216.57 C133.93 216.89 135.27 217.20 136.60 217.46 C137.93 217.73 139.27 217.96 140.60 218.16 C141.93 218.36 143.27 218.53 144.60 218.66 C145.93 218.79 147.27 218.89 148.60 218.95 C149.93 219.02 151.27 219.05 152.60 219.04 C153.93 219.04 155.27 219.01 156.60 218.94 C157.93 218.87 159.27 218.77 160.60 218.65 C161.93 218.52 163.27 218.35 164.60 218.16 C165.93 217.97 167.27 217.75 168.60 217.50 C169.93 217.25 171.27 216.97 172.60 216.66 C173.93 216.36 175.27 216.02 176.60 215.66 C177.93 215.30 179.27 214.90 180.60 214.49 C181.93 214.08 183.27 213.64 184.60 213.18 C185.93 212.72 187.27 212.23 188.60 211.73 C189.93 211.22 191.27 210.70 192.60 210.16 C193.93 209.61 195.27 209.05 196.60 208.47 C197.93 207.89 199.27 207.29 200.60 206.68 C201.93 206.07 203.27 205.45 204.60 204.81 C205.93 204.17 207.27 203.52 208.60 202.85 C209.93 202.19 211.27 201.51 212.60 200.82 C213.93 200.14 215.27 199.44 216.60 198.74 C217.93 198.03 219.27 197.31 220.60 196.59 C221.93 195.87 223.27 195.14 224.60 194.41 C225.93 193.67 227.27 192.93 228.60 192.19 C229.93 191.45 231.27 190.70 232.60 189.96 C233.93 189.22 235.27 188.48 236.60 187.76 C237.93 187.03 239.27 186.31 240.60 185.62 C241.93 184.93 243.27 184.25 244.60 183.59 C245.93 182.94 247.27 182.31 248.60 181.72 C249.93 181.12 251.27 180.55 252.60 180.03 C253.93 179.50 255.27 179.01 256.60 178.57 C257.93 178.13 259.27 177.73 260.60 177.38 C261.93 177.02 263.27 176.73 264.60 176.46 C265.93 176.20 267.27 175.99 268.60 175.81 C269.93 175.63 271.27 175.49 272.60 175.37 C273.93 175.26 275.27 175.18 276.60 175.13 C277.93 175.07 279.27 175.05 280.60 175.04 C281.93 175.03 283.27 175.04 284.60 175.07 C285.93 175.10 287.27 175.15 288.60 175.20 C289.93 175.25 291.27 175.32 292.60 175.39 C293.93 175.45 295.27 175.53 296.60 175.60 C297.93 175.68 299.27 175.75 300.60 175.83 C301.93 175.90 303.27 175.98 304.60 176.05 C305.93 176.12 307.27 176.19 308.60 176.26 C309.93 176.33 311.27 176.39 312.60 176.45 C313.93 176.51 315.27 176.56 316.60 176.61 C317.93 176.66 319.82 176.71 320.60 176.73 C321.38 176.75 321.18 176.74 321.30 176.74" fill="none" stroke="#000" stroke-width="1.7" stroke-dasharray="3.0 5.1" stroke-dashoffset="0" clip-path="url(#cb)"/>
<path d="M52.60 196.97 C53.27 197.18 55.27 197.79 56.60 198.25 C57.93 198.72 59.27 199.23 60.60 199.76 C61.93 200.30 63.27 200.87 64.60 201.46 C65.93 202.05 67.27 202.67 68.60 203.31 C69.93 203.95 71.27 204.61 72.60 205.28 C73.93 205.95 75.27 206.64 76.60 207.33 C77.93 208.02 79.27 208.73 80.60 209.43 C81.93 210.14 83.27 210.85 84.60 211.56 C85.93 212.27 87.27 212.98 88.60 213.69 C89.93 214.40 91.27 215.12 92.60 215.83 C93.93 216.54 95.27 217.25 96.60 217.96 C97.93 218.66 99.27 219.36 100.60 220.06 C101.93 220.76 103.27 221.45 104.60 222.14 C105.93 222.82 107.27 223.51 108.60 224.17 C109.93 224.84 111.27 225.50 112.60 226.14 C113.93 226.78 115.27 227.40 116.60 228.00 C117.93 228.60 119.27 229.17 120.60 229.72 C121.93 230.26 123.27 230.78 124.60 231.26 C125.93 231.73 127.27 232.18 128.60 232.58 C129.93 232.98 131.27 233.35 132.60 233.66 C133.93 233.97 135.27 234.24 136.60 234.45 C137.93 234.66 139.27 234.81 140.60 234.92 C141.93 235.03 143.27 235.08 144.60 235.08 C145.93 235.09 147.27 235.04 148.60 234.95 C149.93 234.86 151.27 234.72 152.60 234.53 C153.93 234.35 155.27 234.12 156.60 233.85 C157.93 233.58 159.27 233.26 160.60 232.91 C161.93 232.55 163.27 232.16 164.60 231.73 C165.93 231.29 167.27 230.82 168.60 230.32 C169.93 229.81 171.27 229.27 172.60 228.70 C173.93 228.13 175.27 227.52 176.60 226.88 C177.93 226.25 179.27 225.58 180.60 224.89 C181.93 224.20 183.27 223.48 184.60 222.73 C185.93 221.99 187.27 221.22 188.60 220.43 C189.93 219.64 191.27 218.83 192.60 218.00 C193.93 217.16 195.27 216.31 196.60 215.45 C197.93 214.58 199.27 213.70 200.60 212.80 C201.93 211.91 203.27 211.00 204.60 210.08 C205.93 209.16 207.27 208.23 208.60 207.29 C209.93 206.35 211.27 205.41 212.60 204.46 C213.93 203.51 215.27 202.55 216.60 201.59 C217.93 200.63 219.27 199.67 220.60 198.71 C221.93 197.76 223.27 196.79 224.60 195.84 C225.93 194.89 227.27 193.94 228.60 192.99 C229.93 192.05 231.27 191.12 232.60 190.19 C233.93 189.27 235.27 188.36 236.60 187.46 C237.93 186.56 239.27 185.68 240.60 184.82 C241.93 183.95 243.27 183.11 244.60 182.29 C245.93 181.46 247.27 180.66 248.60 179.89 C249.93 179.11 251.27 178.36 252.60 177.64 C253.93 176.92 255.27 176.23 256.60 175.57 C257.93 174.92 259.27 174.29 260.60 173.71 C261.93 173.12 263.27 172.57 264.60 172.06 C265.93 171.55 267.27 171.08 268.60 170.65 C269.93 170.23 271.27 169.85 272.60 169.51 C273.93 169.18 275.27 168.90 276.60 168.66 C277.93 168.43 279.27 168.25 280.60 168.12 C281.93 168.00 283.27 167.93 284.60 167.91 C285.93 167.90 287.27 167.94 288.60 168.02 C289.93 168.10 291.27 168.23 292.60 168.39 C293.93 168.54 295.27 168.74 296.60 168.94 C297.93 169.15 299.27 169.38 300.60 169.62 C301.93 169.85 303.27 170.10 304.60 170.35 C305.93 170.59 307.27 170.83 308.60 171.06 C309.93 171.28 311.27 171.51 312.60 171.69 C313.93 171.88 315.27 172.05 316.60 172.17 C317.93 172.30 319.82 172.39 320.60 172.44 C321.38 172.48 321.18 172.45 321.30 172.46" fill="none" stroke="#000" stroke-width="1.7" stroke-dasharray="3.0 5.1" stroke-dashoffset="0" clip-path="url(#cb)"/>
<path d="M52.60 208.20 C53.27 208.72 55.27 210.19 56.60 211.27 C57.93 212.34 59.27 213.48 60.60 214.65 C61.93 215.81 63.27 217.03 64.60 218.26 C65.93 219.50 67.27 220.77 68.60 222.05 C69.93 223.32 71.27 224.63 72.60 225.92 C73.93 227.21 75.27 228.52 76.60 229.81 C77.93 231.10 79.27 232.38 80.60 233.65 C81.93 234.91 83.27 236.16 84.60 237.39 C85.93 238.61 87.27 239.82 88.60 241.00 C89.93 242.17 91.27 243.33 92.60 244.45 C93.93 245.57 95.27 246.66 96.60 247.71 C97.93 248.76 99.27 249.78 100.60 250.75 C101.93 251.72 103.27 252.66 104.60 253.54 C105.93 254.42 107.27 255.26 108.60 256.04 C109.93 256.82 111.27 257.56 112.60 258.23 C113.93 258.90 115.27 259.52 116.60 260.08 C117.93 260.64 119.27 261.15 120.60 261.59 C121.93 262.03 123.27 262.41 124.60 262.73 C125.93 263.05 127.27 263.30 128.60 263.50 C129.93 263.69 131.27 263.81 132.60 263.87 C133.93 263.93 135.27 263.92 136.60 263.85 C137.93 263.77 139.27 263.62 140.60 263.40 C141.93 263.19 143.27 262.89 144.60 262.53 C145.93 262.17 147.27 261.74 148.60 261.25 C149.93 260.75 151.27 260.19 152.60 259.57 C153.93 258.95 155.27 258.27 156.60 257.54 C157.93 256.81 159.27 256.02 160.60 255.19 C161.93 254.36 163.27 253.47 164.60 252.55 C165.93 251.63 167.27 250.66 168.60 249.65 C169.93 248.65 171.27 247.60 172.60 246.53 C173.93 245.46 175.27 244.35 176.60 243.21 C177.93 242.08 179.27 240.92 180.60 239.73 C181.93 238.54 183.27 237.33 184.60 236.09 C185.93 234.86 187.27 233.60 188.60 232.32 C189.93 231.04 191.27 229.74 192.60 228.42 C193.93 227.10 195.27 225.76 196.60 224.41 C197.93 223.06 199.27 221.69 200.60 220.31 C201.93 218.93 203.27 217.54 204.60 216.14 C205.93 214.75 207.27 213.35 208.60 211.95 C209.93 210.55 211.27 209.15 212.60 207.76 C213.93 206.38 215.27 204.99 216.60 203.63 C217.93 202.26 219.27 200.91 220.60 199.58 C221.93 198.25 223.27 196.94 224.60 195.65 C225.93 194.37 227.27 193.11 228.60 191.87 C229.93 190.64 231.27 189.43 232.60 188.24 C233.93 187.06 235.27 185.91 236.60 184.78 C237.93 183.66 239.27 182.56 240.60 181.49 C241.93 180.42 243.27 179.38 244.60 178.38 C245.93 177.37 247.27 176.40 248.60 175.46 C249.93 174.52 251.27 173.61 252.60 172.73 C253.93 171.86 255.27 171.02 256.60 170.22 C257.93 169.42 259.27 168.65 260.60 167.93 C261.93 167.21 263.27 166.52 264.60 165.88 C265.93 165.24 267.27 164.64 268.60 164.09 C269.93 163.54 271.27 163.03 272.60 162.57 C273.93 162.11 275.27 161.70 276.60 161.34 C277.93 160.98 279.27 160.67 280.60 160.41 C281.93 160.15 283.27 159.95 284.60 159.80 C285.93 159.65 287.27 159.56 288.60 159.52 C289.93 159.47 291.27 159.49 292.60 159.53 C293.93 159.57 295.27 159.66 296.60 159.77 C297.93 159.88 299.27 160.03 300.60 160.19 C301.93 160.35 303.27 160.54 304.60 160.73 C305.93 160.92 307.27 161.13 308.60 161.33 C309.93 161.53 311.27 161.74 312.60 161.93 C313.93 162.12 315.27 162.31 316.60 162.48 C317.93 162.64 319.82 162.83 320.60 162.91 C321.38 163.00 321.18 162.96 321.30 162.97" fill="none" stroke="#000" stroke-width="1.7" stroke-dasharray="3.0 5.1" stroke-dashoffset="0" clip-path="url(#cb)"/>
<path d="M51.70 304.66 C52.37 306.13 54.37 310.62 55.70 313.47 C57.03 316.33 58.37 319.11 59.70 321.81 C61.03 324.50 62.37 327.12 63.70 329.66 C65.03 332.19 66.37 334.65 67.70 337.03 C69.03 339.40 70.37 341.70 71.70 343.91 C73.03 346.13 74.37 348.27 75.70 350.32 C77.03 352.38 78.37 354.36 79.70 356.25 C81.03 358.15 82.37 359.97 83.70 361.71 C85.03 363.45 86.37 365.11 87.70 366.70 C89.03 368.29 90.37 369.81 91.70 371.26 C93.03 372.71 94.37 374.08 95.70 375.39 C97.03 376.71 98.37 377.95 99.70 379.13 C101.03 380.31 102.37 381.43 103.70 382.49 C105.03 383.55 106.37 384.55 107.70 385.50 C109.03 386.44 110.37 387.33 111.70 388.16 C113.03 389.00 114.37 389.78 115.70 390.51 C117.03 391.25 118.37 391.93 119.70 392.56 C121.03 393.20 122.37 393.79 123.70 394.33 C125.03 394.88 126.37 395.38 127.70 395.84 C129.03 396.31 130.37 396.73 131.70 397.11 C133.03 397.50 134.37 397.84 135.70 398.16 C137.03 398.47 138.37 398.75 139.70 399.00 C141.03 399.25 142.37 399.47 143.70 399.66 C145.03 399.85 146.37 400.01 147.70 400.15 C149.03 400.29 150.37 400.41 151.70 400.51 C153.03 400.60 154.37 400.68 155.70 400.74 C157.03 400.80 158.37 400.84 159.70 400.87 C161.03 400.90 162.37 400.92 163.70 400.93 C165.03 400.94 166.37 400.93 167.70 400.92 C169.03 400.91 170.37 400.90 171.70 400.86 C173.03 400.83 174.37 400.79 175.70 400.73 C177.03 400.67 178.37 400.60 179.70 400.50 C181.03 400.41 182.37 400.30 183.70 400.17 C185.03 400.04 186.37 399.89 187.70 399.71 C189.03 399.53 190.37 399.33 191.70 399.11 C193.03 398.88 194.37 398.63 195.70 398.34 C197.03 398.06 198.37 397.74 199.70 397.40 C201.03 397.05 202.37 396.68 203.70 396.27 C205.03 395.86 206.37 395.43 207.70 394.96 C209.03 394.50 210.37 394.00 211.70 393.49 C213.03 392.97 214.37 392.42 215.70 391.85 C217.03 391.28 218.37 390.68 219.70 390.06 C221.03 389.44 222.37 388.79 223.70 388.13 C225.03 387.46 226.37 386.78 227.70 386.07 C229.03 385.36 230.37 384.63 231.70 383.89 C233.03 383.14 234.37 382.37 235.70 381.58 C237.03 380.78 238.37 379.97 239.70 379.13 C241.03 378.29 242.37 377.42 243.70 376.53 C245.03 375.63 246.37 374.71 247.70 373.76 C249.03 372.81 250.37 371.82 251.70 370.81 C253.03 369.79 254.37 368.74 255.70 367.66 C257.03 366.57 258.37 365.45 259.70 364.29 C261.03 363.14 262.37 361.94 263.70 360.72 C265.03 359.50 266.37 358.25 267.70 356.99 C269.03 355.72 270.37 354.43 271.70 353.13 C273.03 351.83 274.37 350.51 275.70 349.20 C277.03 347.89 278.37 346.56 279.70 345.25 C281.03 343.93 282.37 342.61 283.70 341.31 C285.03 340.01 286.37 338.72 287.70 337.44 C289.03 336.17 290.37 334.92 291.70 333.68 C293.03 332.44 294.37 331.23 295.70 330.02 C297.03 328.81 298.37 327.62 299.70 326.43 C301.03 325.24 302.37 324.07 303.70 322.90 C305.03 321.73 306.37 320.57 307.70 319.40 C309.03 318.24 310.37 317.08 311.70 315.92 C313.03 314.75 314.37 313.59 315.70 312.42 C317.03 311.25 318.77 309.72 319.70 308.89 C320.63 308.07 321.03 307.71 321.30 307.47" fill="none" stroke="#0000ff" stroke-width="1.8" clip-path="url(#cc)"/>
<path d="M51.70 304.49 C52.37 305.87 54.37 310.05 55.70 312.76 C57.03 315.46 58.37 318.13 59.70 320.73 C61.03 323.32 62.37 325.87 63.70 328.34 C65.03 330.81 66.37 333.22 67.70 335.55 C69.03 337.87 70.37 340.12 71.70 342.28 C73.03 344.44 74.37 346.51 75.70 348.49 C77.03 350.46 78.37 352.34 79.70 354.11 C81.03 355.88 82.37 357.54 83.70 359.12 C85.03 360.70 86.37 362.17 87.70 363.57 C89.03 364.97 90.37 366.28 91.70 367.53 C93.03 368.77 94.37 369.93 95.70 371.05 C97.03 372.16 98.37 373.20 99.70 374.20 C101.03 375.20 102.37 376.14 103.70 377.05 C105.03 377.97 106.37 378.83 107.70 379.67 C109.03 380.51 110.37 381.31 111.70 382.08 C113.03 382.85 114.37 383.59 115.70 384.29 C117.03 384.99 118.37 385.66 119.70 386.28 C121.03 386.91 122.37 387.51 123.70 388.06 C125.03 388.61 126.37 389.13 127.70 389.60 C129.03 390.08 130.37 390.51 131.70 390.91 C133.03 391.30 134.37 391.66 135.70 391.97 C137.03 392.28 138.37 392.54 139.70 392.78 C141.03 393.01 142.37 393.20 143.70 393.36 C145.03 393.52 146.37 393.65 147.70 393.75 C149.03 393.86 150.37 393.93 151.70 393.98 C153.03 394.04 154.37 394.07 155.70 394.08 C157.03 394.10 158.37 394.09 159.70 394.08 C161.03 394.07 162.37 394.04 163.70 394.01 C165.03 393.98 166.37 393.94 167.70 393.89 C169.03 393.83 170.37 393.77 171.70 393.70 C173.03 393.62 174.37 393.54 175.70 393.44 C177.03 393.34 178.37 393.22 179.70 393.10 C181.03 392.97 182.37 392.83 183.70 392.67 C185.03 392.52 186.37 392.35 187.70 392.16 C189.03 391.97 190.37 391.77 191.70 391.54 C193.03 391.32 194.37 391.08 195.70 390.82 C197.03 390.56 198.37 390.28 199.70 389.97 C201.03 389.67 202.37 389.35 203.70 388.99 C205.03 388.64 206.37 388.27 207.70 387.87 C209.03 387.47 210.37 387.04 211.70 386.58 C213.03 386.12 214.37 385.64 215.70 385.12 C217.03 384.60 218.37 384.06 219.70 383.47 C221.03 382.89 222.37 382.28 223.70 381.63 C225.03 380.97 226.37 380.29 227.70 379.56 C229.03 378.84 230.37 378.08 231.70 377.29 C233.03 376.49 234.37 375.67 235.70 374.81 C237.03 373.96 238.37 373.07 239.70 372.17 C241.03 371.26 242.37 370.32 243.70 369.36 C245.03 368.41 246.37 367.43 247.70 366.43 C249.03 365.43 250.37 364.41 251.70 363.37 C253.03 362.34 254.37 361.29 255.70 360.23 C257.03 359.16 258.37 358.09 259.70 357.00 C261.03 355.92 262.37 354.82 263.70 353.72 C265.03 352.62 266.37 351.51 267.70 350.40 C269.03 349.29 270.37 348.17 271.70 347.06 C273.03 345.94 274.37 344.82 275.70 343.71 C277.03 342.60 278.37 341.48 279.70 340.38 C281.03 339.27 282.37 338.17 283.70 337.08 C285.03 335.99 286.37 334.90 287.70 333.82 C289.03 332.74 290.37 331.67 291.70 330.60 C293.03 329.53 294.37 328.47 295.70 327.41 C297.03 326.35 298.37 325.30 299.70 324.25 C301.03 323.19 302.37 322.14 303.70 321.09 C305.03 320.05 306.37 319.00 307.70 317.95 C309.03 316.91 310.37 315.86 311.70 314.82 C313.03 313.77 314.37 312.73 315.70 311.68 C317.03 310.63 318.77 309.26 319.70 308.53 C320.63 307.79 321.03 307.48 321.30 307.26" fill="none" stroke="#00ff00" stroke-width="1.8" clip-path="url(#cc)"/>
<path d="M51.70 304.53 C52.37 305.90 54.37 310.06 55.70 312.73 C57.03 315.40 58.37 318.00 59.70 320.53 C61.03 323.06 62.37 325.53 63.70 327.91 C65.03 330.29 66.37 332.60 67.70 334.83 C69.03 337.05 70.37 339.20 71.70 341.26 C73.03 343.32 74.37 345.29 75.70 347.17 C77.03 349.05 78.37 350.84 79.70 352.54 C81.03 354.23 82.37 355.83 83.70 357.35 C85.03 358.86 86.37 360.29 87.70 361.64 C89.03 363.00 90.37 364.27 91.70 365.48 C93.03 366.69 94.37 367.82 95.70 368.91 C97.03 370.00 98.37 371.02 99.70 372.00 C101.03 372.98 102.37 373.90 103.70 374.79 C105.03 375.68 106.37 376.53 107.70 377.35 C109.03 378.17 110.37 378.95 111.70 379.70 C113.03 380.45 114.37 381.16 115.70 381.84 C117.03 382.52 118.37 383.16 119.70 383.76 C121.03 384.36 122.37 384.92 123.70 385.44 C125.03 385.97 126.37 386.45 127.70 386.89 C129.03 387.33 130.37 387.73 131.70 388.09 C133.03 388.45 134.37 388.76 135.70 389.03 C137.03 389.30 138.37 389.52 139.70 389.71 C141.03 389.90 142.37 390.04 143.70 390.16 C145.03 390.28 146.37 390.36 147.70 390.41 C149.03 390.47 150.37 390.50 151.70 390.51 C153.03 390.53 154.37 390.51 155.70 390.50 C157.03 390.48 158.37 390.44 159.70 390.40 C161.03 390.36 162.37 390.31 163.70 390.25 C165.03 390.20 166.37 390.15 167.70 390.08 C169.03 390.02 170.37 389.95 171.70 389.86 C173.03 389.78 174.37 389.69 175.70 389.59 C177.03 389.48 178.37 389.37 179.70 389.24 C181.03 389.11 182.37 388.96 183.70 388.80 C185.03 388.64 186.37 388.46 187.70 388.26 C189.03 388.06 190.37 387.84 191.70 387.60 C193.03 387.36 194.37 387.10 195.70 386.81 C197.03 386.53 198.37 386.22 199.70 385.89 C201.03 385.56 202.37 385.20 203.70 384.82 C205.03 384.44 206.37 384.04 207.70 383.61 C209.03 383.19 210.37 382.73 211.70 382.25 C213.03 381.78 214.37 381.27 215.70 380.74 C217.03 380.21 218.37 379.65 219.70 379.07 C221.03 378.49 222.37 377.88 223.70 377.24 C225.03 376.60 226.37 375.93 227.70 375.24 C229.03 374.54 230.37 373.82 231.70 373.07 C233.03 372.32 234.37 371.55 235.70 370.75 C237.03 369.95 238.37 369.13 239.70 368.28 C241.03 367.44 242.37 366.56 243.70 365.67 C245.03 364.78 246.37 363.87 247.70 362.93 C249.03 362.00 250.37 361.04 251.70 360.07 C253.03 359.10 254.37 358.10 255.70 357.09 C257.03 356.09 258.37 355.06 259.70 354.03 C261.03 352.99 262.37 351.94 263.70 350.89 C265.03 349.84 266.37 348.78 267.70 347.71 C269.03 346.65 270.37 345.58 271.70 344.51 C273.03 343.45 274.37 342.38 275.70 341.32 C277.03 340.25 278.37 339.19 279.70 338.15 C281.03 337.10 282.37 336.06 283.70 335.03 C285.03 334.00 286.37 332.98 287.70 331.97 C289.03 330.96 290.37 329.96 291.70 328.97 C293.03 327.97 294.37 326.98 295.70 326.00 C297.03 325.01 298.37 324.03 299.70 323.05 C301.03 322.07 302.37 321.09 303.70 320.12 C305.03 319.14 306.37 318.16 307.70 317.17 C309.03 316.19 310.37 315.21 311.70 314.22 C313.03 313.23 314.37 312.23 315.70 311.23 C317.03 310.23 318.77 308.91 319.70 308.20 C320.63 307.49 321.03 307.18 321.30 306.97" fill="none" stroke="#ff0000" stroke-width="1.8" clip-path="url(#cc)"/>
<path d="M52.30 303.91 C52.97 305.06 54.97 308.51 56.30 310.81 C57.63 313.11 58.97 315.42 60.30 317.69 C61.63 319.96 62.97 322.23 64.30 324.43 C65.63 326.64 66.97 328.82 68.30 330.92 C69.63 333.03 70.97 335.09 72.30 337.05 C73.63 339.00 74.97 340.90 76.30 342.68 C77.63 344.46 78.97 346.14 80.30 347.74 C81.63 349.33 82.97 350.83 84.30 352.26 C85.63 353.69 86.97 355.02 88.30 356.30 C89.63 357.58 90.97 358.78 92.30 359.93 C93.63 361.08 94.97 362.16 96.30 363.21 C97.63 364.25 98.97 365.23 100.30 366.19 C101.63 367.15 102.97 368.06 104.30 368.94 C105.63 369.83 106.97 370.68 108.30 371.50 C109.63 372.31 110.97 373.10 112.30 373.85 C113.63 374.60 114.97 375.32 116.30 376.00 C117.63 376.69 118.97 377.34 120.30 377.96 C121.63 378.59 122.97 379.17 124.30 379.73 C125.63 380.29 126.97 380.81 128.30 381.30 C129.63 381.80 130.97 382.26 132.30 382.69 C133.63 383.12 134.97 383.52 136.30 383.89 C137.63 384.26 138.97 384.60 140.30 384.92 C141.63 385.23 142.97 385.52 144.30 385.79 C145.63 386.06 146.97 386.30 148.30 386.53 C149.63 386.76 150.97 386.96 152.30 387.15 C153.63 387.34 154.97 387.50 156.30 387.66 C157.63 387.82 158.97 387.96 160.30 388.09 C161.63 388.22 162.97 388.33 164.30 388.44 C165.63 388.55 166.97 388.65 168.30 388.73 C169.63 388.82 170.97 388.89 172.30 388.95 C173.63 389.02 174.97 389.07 176.30 389.11 C177.63 389.14 178.97 389.17 180.30 389.18 C181.63 389.19 182.97 389.19 184.30 389.17 C185.63 389.15 186.97 389.12 188.30 389.07 C189.63 389.02 190.97 388.95 192.30 388.87 C193.63 388.79 194.97 388.69 196.30 388.58 C197.63 388.46 198.97 388.33 200.30 388.18 C201.63 388.03 202.97 387.87 204.30 387.68 C205.63 387.50 206.97 387.30 208.30 387.09 C209.63 386.88 210.97 386.65 212.30 386.40 C213.63 386.15 214.97 385.89 216.30 385.62 C217.63 385.34 218.97 385.05 220.30 384.75 C221.63 384.44 222.97 384.12 224.30 383.79 C225.63 383.45 226.97 383.10 228.30 382.74 C229.63 382.38 230.97 382.00 232.30 381.61 C233.63 381.22 234.97 380.81 236.30 380.39 C237.63 379.97 238.97 379.54 240.30 379.09 C241.63 378.64 242.97 378.17 244.30 377.69 C245.63 377.20 246.97 376.71 248.30 376.19 C249.63 375.68 250.97 375.15 252.30 374.60 C253.63 374.05 254.97 373.49 256.30 372.90 C257.63 372.32 258.97 371.72 260.30 371.10 C261.63 370.48 262.97 369.85 264.30 369.19 C265.63 368.53 266.97 367.86 268.30 367.16 C269.63 366.45 270.97 365.73 272.30 364.98 C273.63 364.24 274.97 363.47 276.30 362.67 C277.63 361.87 278.97 361.05 280.30 360.19 C281.63 359.34 282.97 358.46 284.30 357.55 C285.63 356.64 286.97 355.70 288.30 354.73 C289.63 353.76 290.97 352.75 292.30 351.74 C293.63 350.73 294.97 349.69 296.30 348.66 C297.63 347.64 298.97 346.60 300.30 345.59 C301.63 344.58 302.97 343.57 304.30 342.61 C305.63 341.64 306.97 340.70 308.30 339.81 C309.63 338.92 310.97 338.07 312.30 337.28 C313.63 336.50 314.97 335.77 316.30 335.12 C317.63 334.48 319.62 333.70 320.30 333.41 C320.98 333.12 320.38 333.38 320.40 333.37" fill="none" stroke="#000" stroke-width="1.7" stroke-dasharray="3.0 5.1" stroke-dashoffset="0" clip-path="url(#cc)"/>
<path d="M52.30 303.85 C52.97 305.02 54.97 308.58 56.30 310.90 C57.63 313.22 58.97 315.52 60.30 317.78 C61.63 320.03 62.97 322.25 64.30 324.43 C65.63 326.60 66.97 328.73 68.30 330.81 C69.63 332.88 70.97 334.91 72.30 336.87 C73.63 338.84 74.97 340.74 76.30 342.58 C77.63 344.42 78.97 346.19 80.30 347.90 C81.63 349.61 82.97 351.25 84.30 352.83 C85.63 354.41 86.97 355.93 88.30 357.38 C89.63 358.84 90.97 360.23 92.30 361.57 C93.63 362.90 94.97 364.17 96.30 365.38 C97.63 366.60 98.97 367.75 100.30 368.85 C101.63 369.94 102.97 370.98 104.30 371.96 C105.63 372.94 106.97 373.87 108.30 374.75 C109.63 375.63 110.97 376.46 112.30 377.24 C113.63 378.02 114.97 378.75 116.30 379.45 C117.63 380.14 118.97 380.79 120.30 381.41 C121.63 382.02 122.97 382.59 124.30 383.13 C125.63 383.68 126.97 384.18 128.30 384.65 C129.63 385.13 130.97 385.57 132.30 385.99 C133.63 386.41 134.97 386.80 136.30 387.17 C137.63 387.54 138.97 387.89 140.30 388.21 C141.63 388.53 142.97 388.83 144.30 389.12 C145.63 389.40 146.97 389.65 148.30 389.90 C149.63 390.14 150.97 390.36 152.30 390.56 C153.63 390.76 154.97 390.95 156.30 391.12 C157.63 391.29 158.97 391.44 160.30 391.58 C161.63 391.72 162.97 391.85 164.30 391.96 C165.63 392.07 166.97 392.17 168.30 392.26 C169.63 392.34 170.97 392.42 172.30 392.48 C173.63 392.55 174.97 392.60 176.30 392.64 C177.63 392.68 178.97 392.71 180.30 392.72 C181.63 392.74 182.97 392.74 184.30 392.73 C185.63 392.72 186.97 392.69 188.30 392.65 C189.63 392.61 190.97 392.56 192.30 392.49 C193.63 392.42 194.97 392.34 196.30 392.24 C197.63 392.14 198.97 392.03 200.30 391.90 C201.63 391.77 202.97 391.62 204.30 391.46 C205.63 391.29 206.97 391.12 208.30 390.92 C209.63 390.72 210.97 390.51 212.30 390.28 C213.63 390.06 214.97 389.81 216.30 389.55 C217.63 389.29 218.97 389.01 220.30 388.71 C221.63 388.42 222.97 388.11 224.30 387.78 C225.63 387.45 226.97 387.10 228.30 386.73 C229.63 386.37 230.97 385.99 232.30 385.59 C233.63 385.19 234.97 384.77 236.30 384.34 C237.63 383.90 238.97 383.45 240.30 382.98 C241.63 382.51 242.97 382.02 244.30 381.52 C245.63 381.01 246.97 380.49 248.30 379.95 C249.63 379.41 250.97 378.85 252.30 378.27 C253.63 377.70 254.97 377.10 256.30 376.49 C257.63 375.88 258.97 375.25 260.30 374.60 C261.63 373.95 262.97 373.29 264.30 372.60 C265.63 371.92 266.97 371.21 268.30 370.49 C269.63 369.77 270.97 369.02 272.30 368.26 C273.63 367.50 274.97 366.72 276.30 365.91 C277.63 365.11 278.97 364.28 280.30 363.44 C281.63 362.59 282.97 361.73 284.30 360.84 C285.63 359.95 286.97 359.03 288.30 358.10 C289.63 357.17 290.97 356.21 292.30 355.24 C293.63 354.27 294.97 353.28 296.30 352.29 C297.63 351.31 298.97 350.31 300.30 349.32 C301.63 348.34 302.97 347.35 304.30 346.38 C305.63 345.41 306.97 344.45 308.30 343.53 C309.63 342.60 310.97 341.69 312.30 340.82 C313.63 339.95 314.97 339.10 316.30 338.31 C317.63 337.51 319.62 336.44 320.30 336.06 C320.98 335.67 320.38 336.01 320.40 336.00" fill="none" stroke="#000" stroke-width="1.7" stroke-dasharray="3.0 5.1" stroke-dashoffset="0" clip-path="url(#cc)"/>
<path d="M52.30 303.68 C52.97 304.92 54.97 308.72 56.30 311.10 C57.63 313.49 58.97 315.77 60.30 318.00 C61.63 320.23 62.97 322.37 64.30 324.47 C65.63 326.58 66.97 328.61 68.30 330.61 C69.63 332.62 70.97 334.57 72.30 336.51 C73.63 338.45 74.97 340.36 76.30 342.26 C77.63 344.17 78.97 346.07 80.30 347.93 C81.63 349.80 82.97 351.66 84.30 353.46 C85.63 355.27 86.97 357.05 88.30 358.77 C89.63 360.49 90.97 362.17 92.30 363.77 C93.63 365.36 94.97 366.91 96.30 368.36 C97.63 369.81 98.97 371.19 100.30 372.47 C101.63 373.74 102.97 374.92 104.30 376.02 C105.63 377.12 106.97 378.11 108.30 379.05 C109.63 379.99 110.97 380.84 112.30 381.64 C113.63 382.45 114.97 383.17 116.30 383.87 C117.63 384.56 118.97 385.19 120.30 385.80 C121.63 386.40 122.97 386.96 124.30 387.51 C125.63 388.06 126.97 388.57 128.30 389.08 C129.63 389.58 130.97 390.07 132.30 390.55 C133.63 391.02 134.97 391.47 136.30 391.91 C137.63 392.35 138.97 392.77 140.30 393.17 C141.63 393.57 142.97 393.96 144.30 394.32 C145.63 394.69 146.97 395.04 148.30 395.36 C149.63 395.69 150.97 396.00 152.30 396.29 C153.63 396.58 154.97 396.85 156.30 397.10 C157.63 397.35 158.97 397.58 160.30 397.79 C161.63 398.00 162.97 398.19 164.30 398.36 C165.63 398.53 166.97 398.68 168.30 398.81 C169.63 398.95 170.97 399.06 172.30 399.16 C173.63 399.26 174.97 399.34 176.30 399.40 C177.63 399.47 178.97 399.51 180.30 399.55 C181.63 399.58 182.97 399.60 184.30 399.60 C185.63 399.60 186.97 399.59 188.30 399.56 C189.63 399.54 190.97 399.49 192.30 399.44 C193.63 399.39 194.97 399.32 196.30 399.24 C197.63 399.16 198.97 399.06 200.30 398.95 C201.63 398.84 202.97 398.71 204.30 398.57 C205.63 398.43 206.97 398.28 208.30 398.10 C209.63 397.93 210.97 397.75 212.30 397.54 C213.63 397.34 214.97 397.12 216.30 396.88 C217.63 396.65 218.97 396.39 220.30 396.12 C221.63 395.85 222.97 395.57 224.30 395.26 C225.63 394.96 226.97 394.63 228.30 394.29 C229.63 393.95 230.97 393.59 232.30 393.22 C233.63 392.84 234.97 392.45 236.30 392.03 C237.63 391.62 238.97 391.19 240.30 390.73 C241.63 390.28 242.97 389.81 244.30 389.32 C245.63 388.83 246.97 388.32 248.30 387.79 C249.63 387.26 250.97 386.71 252.30 386.14 C253.63 385.58 254.97 384.99 256.30 384.37 C257.63 383.76 258.97 383.13 260.30 382.47 C261.63 381.82 262.97 381.14 264.30 380.43 C265.63 379.72 266.97 378.99 268.30 378.23 C269.63 377.46 270.97 376.67 272.30 375.85 C273.63 375.03 274.97 374.18 276.30 373.29 C277.63 372.40 278.97 371.48 280.30 370.53 C281.63 369.57 282.97 368.58 284.30 367.55 C285.63 366.52 286.97 365.45 288.30 364.35 C289.63 363.24 290.97 362.09 292.30 360.93 C293.63 359.76 294.97 358.56 296.30 357.37 C297.63 356.17 298.97 354.96 300.30 353.76 C301.63 352.56 302.97 351.35 304.30 350.18 C305.63 349.00 306.97 347.83 308.30 346.71 C309.63 345.59 310.97 344.49 312.30 343.45 C313.63 342.41 314.97 341.41 316.30 340.48 C317.63 339.55 319.62 338.32 320.30 337.87 C320.98 337.43 320.38 337.82 320.40 337.81" fill="none" stroke="#000" stroke-width="1.7" stroke-dasharray="3.0 5.1" stroke-dashoffset="0" clip-path="url(#cc)"/>
<path d="M48.40 9.55 L48.40 431.45 M321.50 9.55 L321.50 431.45 M48.40 10.40 L321.50 10.40 M48.40 150.50 L321.50 150.50 M48.40 290.60 L321.50 290.60 M48.40 430.60 L321.50 430.60" stroke="#000" stroke-width="1.7" fill="none" stroke-linecap="butt"/>
<text x="41.3" y="154.9" font-size="10.6" text-anchor="end" fill="#000" font-family="Liberation Sans, sans-serif" >0</text>
<text x="41.3" y="98.9" font-size="10.6" text-anchor="end" fill="#000" font-family="Liberation Sans, sans-serif" >10</text>
<text x="41.3" y="42.8" font-size="10.6" text-anchor="end" fill="#000" font-family="Liberation Sans, sans-serif" >20</text>
<text x="41.3" y="192.3" font-size="10.6" text-anchor="end" fill="#000" font-family="Liberation Sans, sans-serif" >0</text>
<text x="41.3" y="285.7" font-size="10.6" text-anchor="end" fill="#000" font-family="Liberation Sans, sans-serif" >-10</text>
<text x="41.3" y="302.9" font-size="10.6" text-anchor="end" fill="#000" font-family="Liberation Sans, sans-serif" >0</text>
<text x="41.3" y="369.0" font-size="10.6" text-anchor="end" fill="#000" font-family="Liberation Sans, sans-serif" >-0.5</text>
<text x="41.3" y="435.0" font-size="10.6" text-anchor="end" fill="#000" font-family="Liberation Sans, sans-serif" >-1</text>
<text x="48.4" y="445.8" font-size="10.6" text-anchor="middle" fill="#000" font-family="Liberation Sans, sans-serif" >0</text>
<text x="169.8" y="445.8" font-size="10.6" text-anchor="middle" fill="#000" font-family="Liberation Sans, sans-serif" >0.04</text>
<text x="291.2" y="445.8" font-size="10.6" text-anchor="middle" fill="#000" font-family="Liberation Sans, sans-serif" >0.08</text>
<text x="70.3" y="39.0" font-size="13.5" text-anchor="start" fill="#000" font-family="Liberation Sans, sans-serif" >(a)</text>
<text x="70.3" y="179.0" font-size="13.5" text-anchor="start" fill="#000" font-family="Liberation Sans, sans-serif" >(b)</text>
<text x="70.3" y="319.1" font-size="13.5" text-anchor="start" fill="#000" font-family="Liberation Sans, sans-serif" >(c)</text>
<text x="269.7" y="46.0" font-size="12.6" text-anchor="start" fill="#ff0000" font-family="Liberation Sans, sans-serif" >0.01</text>
<text x="280.9" y="114.2" font-size="12.6" text-anchor="start" fill="#00ff00" font-family="Liberation Sans, sans-serif" >0.02</text>
<text x="235.3" y="137.8" font-size="12.6" font-family="Liberation Sans, sans-serif" fill="#000"><tspan font-size="12.2" dy="-1.6">&#981;</tspan><tspan font-size="10.6" dy="4.4">v</tspan><tspan dy="-2.8" dx="-0.7"> = </tspan><tspan fill="#0000ff">0.05</tspan></text>
<text x="131.5" y="208.1" font-size="12.6" font-family="Liberation Sans, sans-serif" fill="#000"><tspan font-size="12.2" dy="-1.6">&#981;</tspan><tspan font-size="10.6" dy="4.4">v</tspan><tspan dy="-2.8" dx="-0.7"> = </tspan><tspan fill="#ff0000">0.01</tspan></text>
<text x="121.9" y="259.6" font-size="12.6" text-anchor="start" fill="#00ff00" font-family="Liberation Sans, sans-serif" >0.02</text>
<text x="155.1" y="275.0" font-size="12.6" text-anchor="start" fill="#0000ff" font-family="Liberation Sans, sans-serif" >0.05</text>
<text x="190.9" y="374.7" font-size="12.6" text-anchor="start" fill="#ff0000" font-family="Liberation Sans, sans-serif" >0.01</text>
<text x="67.7" y="408.4" font-size="12.6" font-family="Liberation Sans, sans-serif" fill="#000"><tspan font-size="12.2" dy="-1.6">&#981;</tspan><tspan font-size="10.6" dy="4.4">v</tspan><tspan dy="-2.8" dx="-0.7"> = </tspan><tspan fill="#0000ff">0.05</tspan></text>
<text x="174.0" y="459.2" font-size="14" font-family="Liberation Sans, sans-serif" fill="#000">1/R<tspan font-size="11.5" dy="3">cy</tspan><tspan dy="-3"> (nm</tspan><tspan font-size="10" dy="-6.5">-1</tspan><tspan dy="6.5">)</tspan></text>
<text transform="translate(18.5,88.3) rotate(-90)" font-size="14" font-family="Liberation Sans, sans-serif" fill="#000"><tspan font-size="13.2" dy="-0.6">&#981;</tspan><tspan font-size="11.5" dy="3.6">cy</tspan><tspan dy="-3">/</tspan><tspan font-size="13.2" dy="-0.6">&#981;</tspan><tspan font-size="11.5" dy="3.6">v</tspan></text>
<text transform="translate(19.1,254.8) rotate(-90)" font-size="14" font-family="Liberation Sans, sans-serif" fill="#000">f<tspan font-size="11.5" dy="3">ex</tspan><tspan dy="-3"> - f</tspan><tspan font-size="11.5" dy="3">mb</tspan><tspan dy="-3"> (pJ/m)</tspan></text>
<text transform="translate(18.3,346) rotate(-90)" font-size="14" font-family="Liberation Sans, sans-serif" fill="#000">S<tspan font-size="11.5" dy="3">z</tspan></text>
</svg>
</body></html>
